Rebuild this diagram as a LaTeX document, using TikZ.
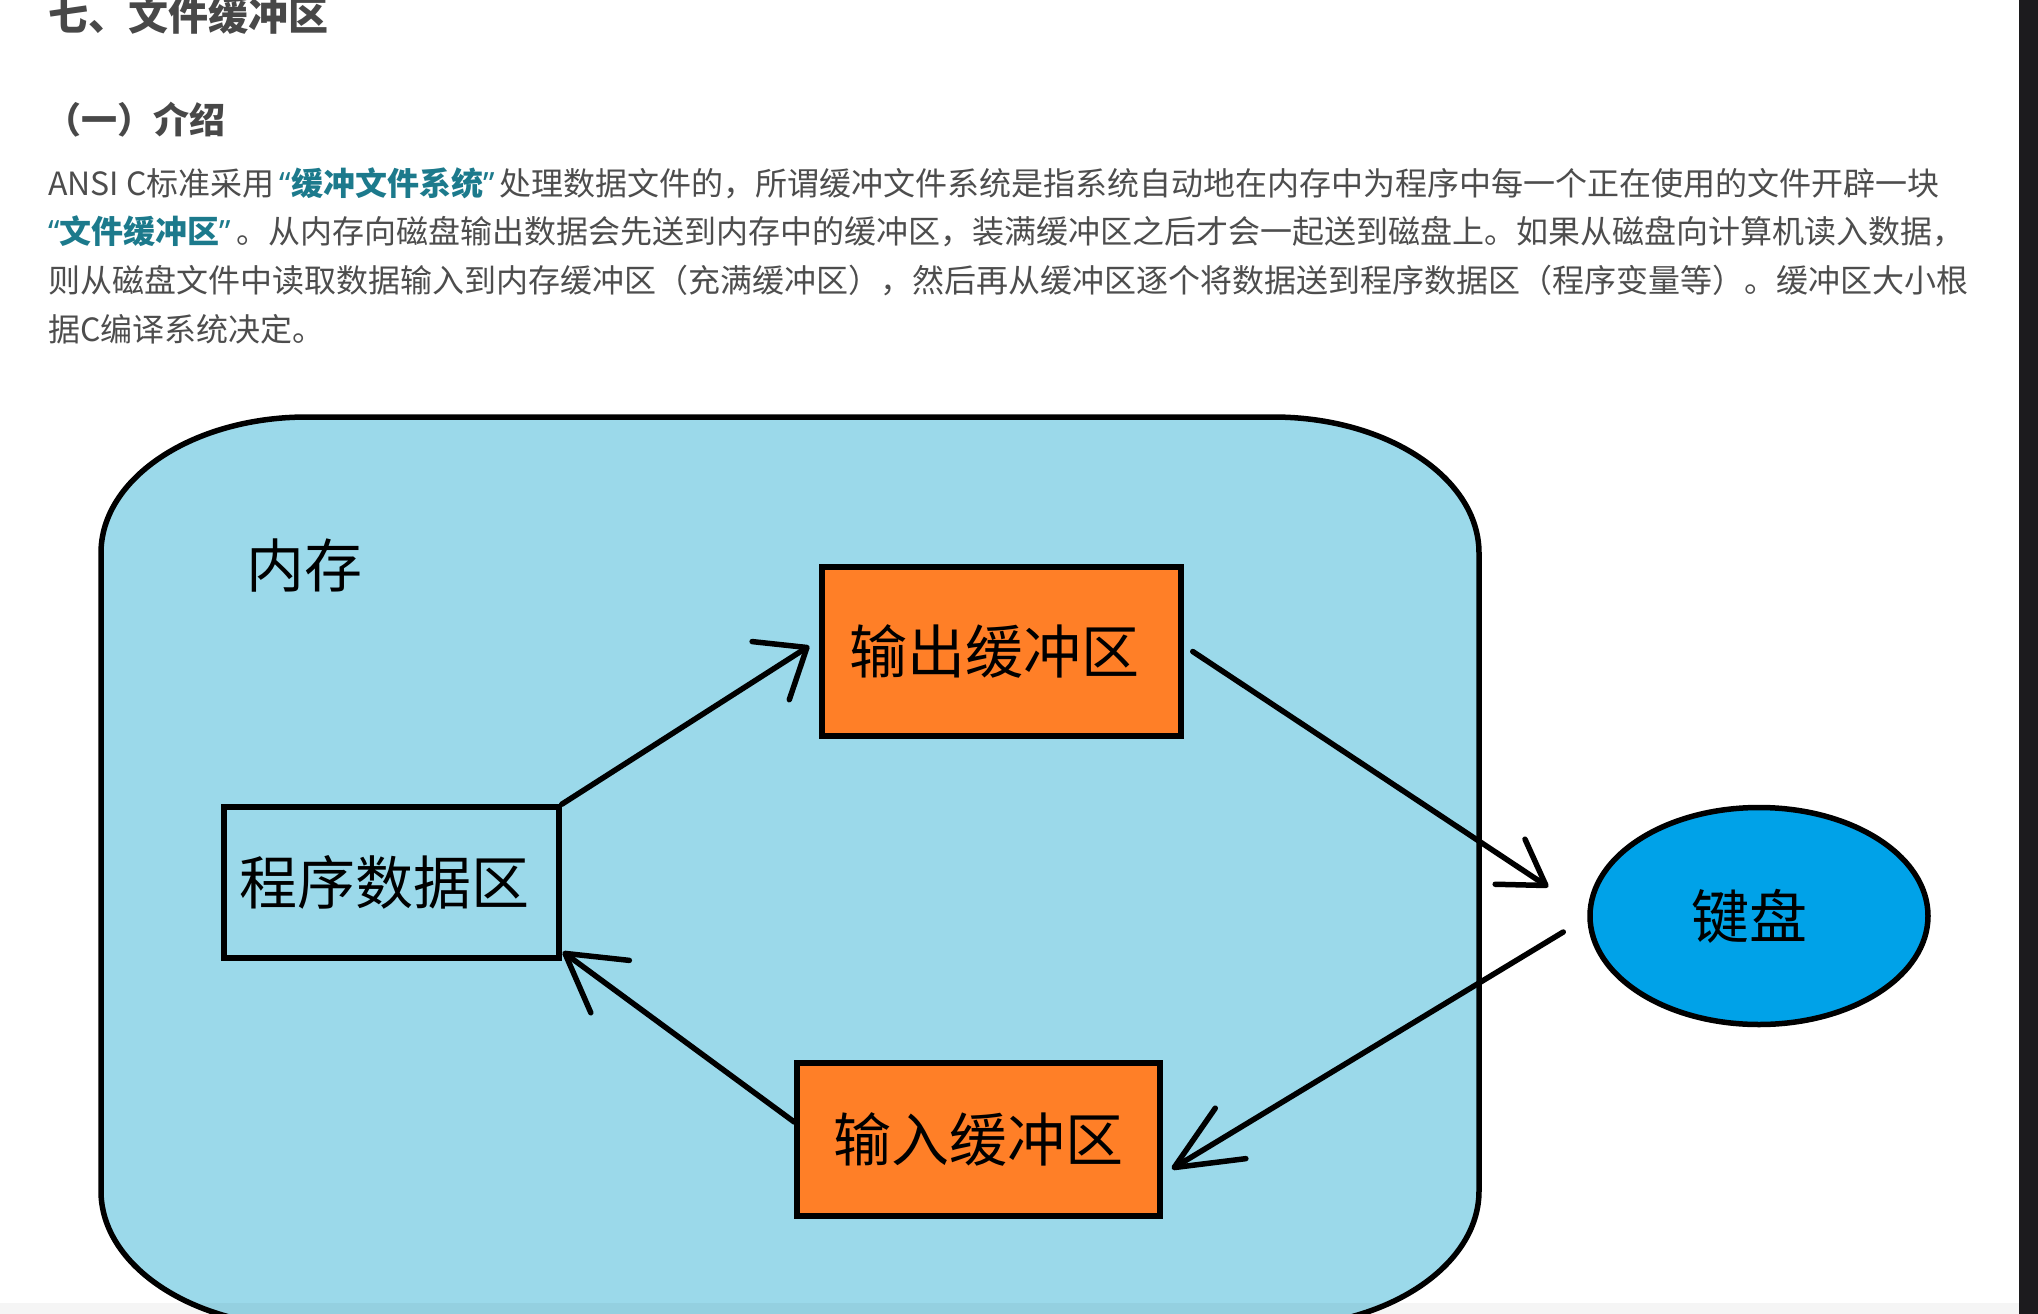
\documentclass[tikz,border=0pt]{standalone}
\usepackage{fontspec}
\setmainfont{Noto Sans CJK SC}
\newfontfamily\quotefont{Noto Sans}
\usetikzlibrary{arrows.meta,shapes.geometric,calc}
\definecolor{membg}{RGB}{155,217,234}
\definecolor{boxorange}{RGB}{255,127,39}
\definecolor{kbblue}{RGB}{0,162,232}
\definecolor{bodygray}{RGB}{77,77,77}
\definecolor{titlegray}{RGB}{72,72,72}
\definecolor{hiteal}{RGB}{28,122,140}
\definecolor{stripecol}{RGB}{28,27,30}
\tikzset{
  box/.style={draw=black, line width=5.5pt, inner sep=0pt, text=black,
              font=\fontsize{58}{60}\selectfont},
  bufbox/.style={box, fill=boxorange},
  conn/.style={line width=5.5pt, line cap=round, line join=round},
  arrA/.style={-{Straight Barb[length=43pt,width=69pt,round]}},
  arrB/.style={-{Straight Barb[length=43pt,width=54pt,round]}},
  arrC/.style={-{Straight Barb[length=66pt,width=59pt,round]}},
  arrD/.style={-{Straight Barb[length=56pt,width=65pt,round]}},
  para/.style={anchor=base west, inner sep=0pt, text=bodygray,
               font=\fontsize{32}{40}\selectfont}
}
\newcommand{\hlt}[1]{{\bfseries\color{hiteal}#1}}
\newcommand{\myLq}{\hspace*{5pt}{\quotefont “}}
\newcommand{\myRq}{{\quotefont ”}\hspace*{5pt}}
\begin{document}
\begin{tikzpicture}[x=1pt,y=-1pt]
\useasboundingbox (0,0) rectangle (2038,1314);
\fill[white] (0,0) rectangle (2038,1314);

% heading texts
\node[anchor=base west, inner sep=0pt, text=titlegray,
      font=\fontsize{40}{48}\selectfont\bfseries] (title) at (48,31) {七、文件缓冲区};
\node[anchor=base west, inner sep=0pt, text=titlegray,
      font=\fontsize{36}{44}\selectfont\bfseries] (sub) at (45,133) {（一）介绍};

\node[para] (l1) at (48,195) {ANSI C标准采用\hlt{\myLq 缓冲文件系统\myRq}处理数据文件的，所谓缓冲文件系统是指系统自动地在内存中为程序中每一个正在使用的文件开辟一块};
\node[para] (l2) at (48,243.7) {\hlt{{\quotefont “}文件缓冲区\myRq}。从内存向磁盘输出数据会先送到内存中的缓冲区，装满缓冲区之后才会一起送到磁盘上。如果从磁盘向计算机读入数据，};
\node[para] (l3) at (48,292.4) {则从磁盘文件中读取数据输入到内存缓冲区（充满缓冲区），然后再从缓冲区逐个将数据送到程序数据区（程序变量等）。缓冲区大小根};
\node[para] (l4) at (48,341) {据C编译系统决定。};

% memory container
\fill[membg, draw=black, line width=5.5pt]
  (307,417) -- (1273,417)
  .. controls (1386.8,417) and (1479,477.9) .. (1479,553)
  -- (1479,1191)
  .. controls (1479,1266.1) and (1386.8,1327) .. (1273,1327)
  -- (307,1327)
  .. controls (193.2,1327) and (101,1266.1) .. (101,1191)
  -- (101,553)
  .. controls (101,477.9) and (193.2,417) .. (307,417) -- cycle;

\node[inner sep=0pt, font=\fontsize{58}{60}\selectfont] (mem) at (304,566) {内存};

% nodes
\node[box, minimum width=335pt, minimum height=151pt] (prog) at (391.5,882.5) {程序数据区\hspace*{14pt}};
\node[bufbox, minimum width=359pt, minimum height=169pt] (outb) at (1001.5,651.5) {输出缓冲区\hspace*{15pt}};
\node[bufbox, minimum width=363pt, minimum height=153pt] (inb) at (978.5,1139.5) {输入缓冲区};
\node[box, ellipse, fill=kbblue, minimum width=338pt, minimum height=217pt] (kb) at (1759,916) {键盘\hspace*{20pt}};

% connectors
\draw[conn, arrA] (prog.north east) -- ($(outb.west)+(-10,-5.5)$);
\draw[conn, arrB] ($(outb.east)+(9,0)$) -- ($(kb.west)+(-39,-29)$);
\draw[conn, arrC] ($(kb.west)+(-24,16)$) -- ($(inb.east)+(9,29.5)$);
\draw[conn, arrD] ($(inb.west)+(0,-17.5)$) -- ($(prog.south east)+(1,-9)$);

% page edges
\fill[black, opacity=0.04] (0,1303) rectangle (2019,1314);
\fill[stripecol] (2019,0) rectangle (2038,1314);
\end{tikzpicture}
\end{document}
